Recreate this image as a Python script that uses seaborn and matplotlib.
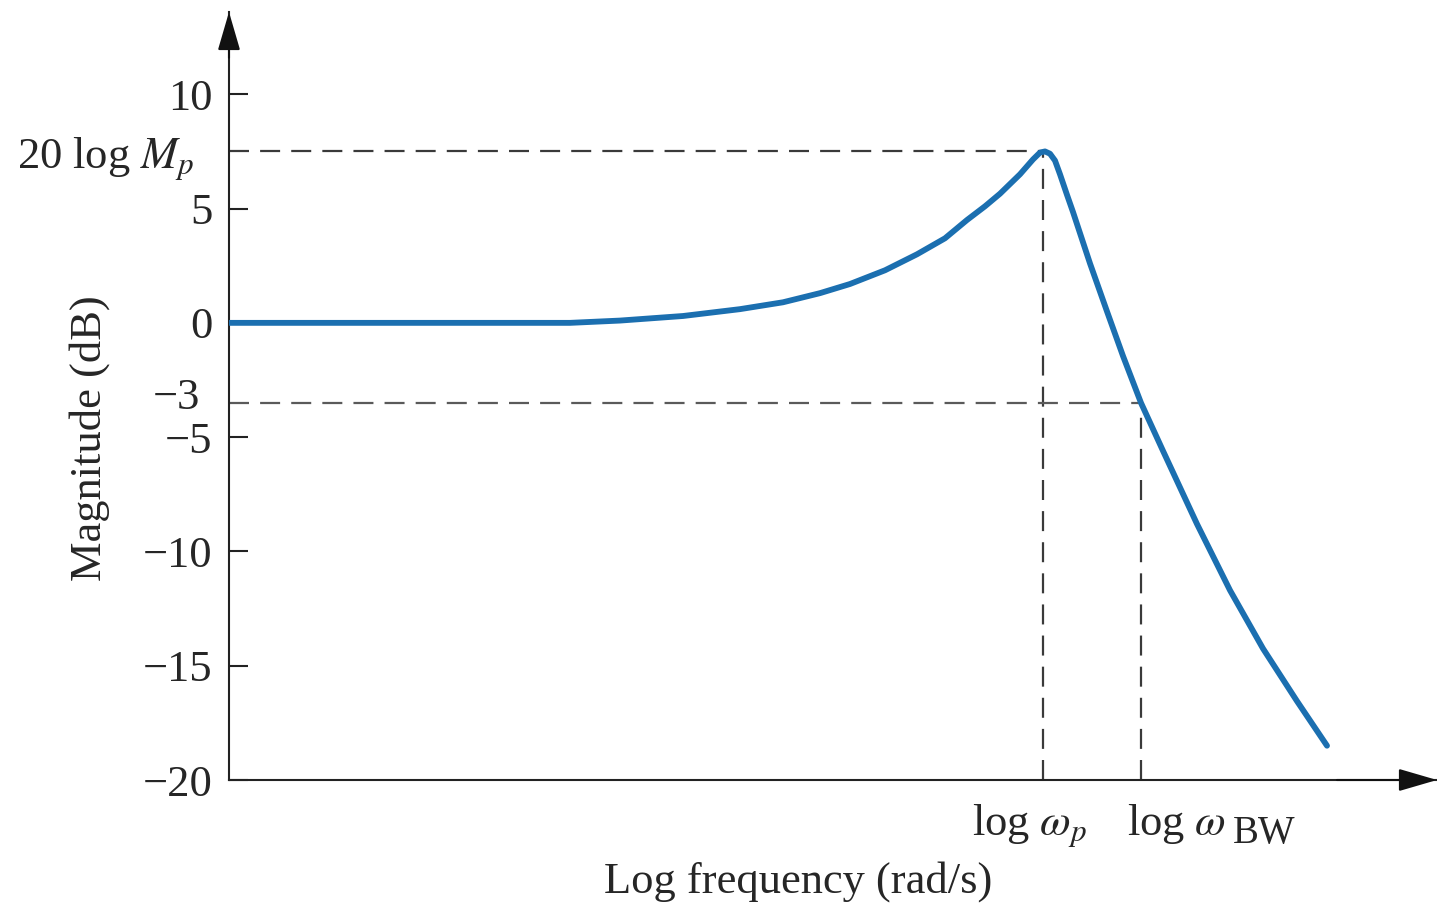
import matplotlib
matplotlib.use("Agg")
import matplotlib.pyplot as plt
import seaborn as sns
import pandas as pd

# magnitude curve (x = log frequency, arbitrary units)
log_freq = [0.0, 3.41, 3.91, 4.54, 5.11, 5.54, 5.91, 6.21, 6.56, 6.88, 7.16, 7.38,
            7.56, 7.71, 7.91, 8.04, 8.11, 8.16, 8.21, 8.26, 8.31, 8.38, 8.44, 8.61,
            8.78, 8.94, 9.12, 9.34, 9.68, 10.01, 10.34, 10.68, 10.98]
magnitude_db = [0.0, 0.0, 0.1, 0.3, 0.6, 0.9, 1.3, 1.7, 2.3, 3.0, 3.7, 4.5,
                5.1, 5.65, 6.5, 7.15, 7.45, 7.5, 7.4, 7.1, 6.5, 5.6, 4.85, 2.6,
                0.5, -1.45, -3.5, -5.6, -8.8, -11.7, -14.25, -16.55, -18.5]

peak_db = 7.5        # 20 log Mp
bw_db = -3.5         # the "-3" level as drawn
log_wp = 8.14
log_wbw = 9.12

ytick_vals = [10, 5, 0, -5, -10, -15, -20]
ytick_labels = ["10", "5", "0", "\u22125", "\u221210", "\u221215", "\u221220"]

sns.set_style("ticks")
plt.rcParams["font.family"] = ["Liberation Serif", "DejaVu Serif"]
plt.rcParams["mathtext.fontset"] = "stix"

W, H = 1437, 906
fig = plt.figure(figsize=(W / 100, H / 100), dpi=100)
ax = fig.add_axes([229 / W, 126 / H, 1208 / W, 768 / H])

x_max = 12.08
y_top = 13.6
ax.set_xlim(0, x_max)
ax.set_ylim(-20, y_top)

df = pd.DataFrame({"logf": log_freq, "mag": magnitude_db})
sns.lineplot(data=df, x="logf", y="mag", ax=ax, color="#1b6fb0", lw=4.2,
             sort=False, estimator=None, zorder=3)

dash = dict(color="#3a3a3a", lw=1.6, dashes=(9, 5), zorder=2)
ax.plot([0, log_wp], [peak_db, peak_db], **dash)
ax.plot([log_wp, log_wp], [-20, peak_db], **dash)
ax.plot([0, log_wbw], [bw_db, bw_db], **{**dash, "color": "#5a5a5a"})
ax.plot([log_wbw, log_wbw], [-20, bw_db], **dash)

for s in ["top", "right"]:
    ax.spines[s].set_visible(False)
for s in ["left", "bottom"]:
    ax.spines[s].set_color("#222222")
    ax.spines[s].set_linewidth(1.5)

ax.set_yticks(ytick_vals, labels=ytick_labels)
ax.set_yticks([peak_db], labels=["20 log $M_p$"], minor=True)
ax.tick_params(axis="y", which="major", direction="in", length=14, width=1.5,
               color="#222222", labelsize=32, pad=12)
ax.tick_params(axis="y", which="minor", length=0, labelsize=32, pad=25)
ax.set_xticks([])
ax.set_xlabel("")
ax.set_ylabel("")

# the -3 label sits a little left of the others
ax.text(-29 / 1208, bw_db + 0.2, "\u22123", transform=ax.get_yaxis_transform(),
        fontsize=32, ha="right", va="center")

# axis arrows
arrow = dict(arrowstyle="-|>,head_length=1.2,head_width=0.35", color="#111111",
             lw=1.5, shrinkA=0, shrinkB=0, mutation_scale=20)
ax.annotate("", xy=(0, y_top), xytext=(0, y_top - 2), arrowprops=arrow,
            annotation_clip=False)
ax.annotate("", xy=(x_max, -20), xytext=(x_max - 1, -20), arrowprops=arrow,
            annotation_clip=False)

# frequency markers under the axis
fig.text(972 / W, 1 - 835 / H, r"log $\omega_p$", fontsize=32, ha="left", va="baseline")
fig.text(1127 / W, 1 - 835 / H, r"log $\omega$", fontsize=32, ha="left", va="baseline")
fig.text(1233 / W, 1 - 843 / H, "BW", fontsize=28, ha="left", va="baseline")

fig.text(798 / W, 1 - 882 / H, "Log frequency (rad/s)", fontsize=32,
         ha="center", va="center")
fig.text(90 / W, 1 - 438 / H, "Magnitude (dB)", fontsize=32,
         ha="center", va="center", rotation=90)

fig.savefig("out.png", dpi=100)
